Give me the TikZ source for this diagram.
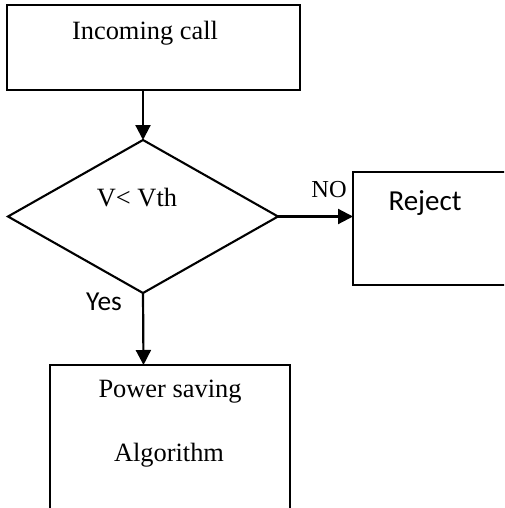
\documentclass[tikz,border=0pt]{standalone}
\usepackage{fontspec}
\setmainfont{Liberation Serif}
\newfontfamily\calib{Carlito}
\usetikzlibrary{shapes.geometric,arrows.meta}
\begin{document}
\begin{tikzpicture}[x=0.5pt,y=-0.5pt,
  box/.style={draw,line width=1.05pt,inner sep=0,outer sep=0},
  conn/.style={line width=1.1pt,-{Triangle[length=7.5pt,width=7.5pt]}},
  tms/.style={font=\fontsize{13.2}{16}\selectfont,inner sep=0},
  cal/.style={font=\calib\fontsize{14.5}{17}\selectfont,inner sep=0}]
\fill[white] (0,0) rectangle (504,508);
\useasboundingbox (0,0) rectangle (504,508);
\clip (0,0) rectangle (504,508);
% boxes
\node[box,minimum width=146.5pt,minimum height=42.5pt,anchor=north west] (call) at (7,5) {};
\node[box,diamond,minimum width=135pt,minimum height=76.5pt] (dec) at (143,216.5) {};
\node[box,minimum width=90pt,minimum height=56.5pt,anchor=north west] (rej) at (353,172) {};
\node[box,minimum width=120pt,minimum height=100pt,anchor=north west] (pow) at (50,365) {};
% texts
\node[tms] (tcall) at (145,33) {Incoming call};
\node[tms] (tdec) at (137,198) {V< Vth};
\node[tms,font=\fontsize{12.2}{14}\selectfont] (tno) at (329,190) {NO};
\node[cal] (trej) at (425,203) {Reject};
\node[cal,font=\calib\fontsize{13.7}{16}\selectfont] (tyes) at (104,302) {Yes};
\node[tms] (tpow1) at (170,392) {Power saving};
\node[tms] (tpow2) at (169,455) {Algorithm};
% connectors
\draw[conn] (call.south -| dec.north) -- (dec.north);
\draw[conn] (dec.east) -- (rej.west |- dec.east);
\draw[conn] (dec.south) -- (pow.north -| 143.5,0);
\end{tikzpicture}
\end{document}
